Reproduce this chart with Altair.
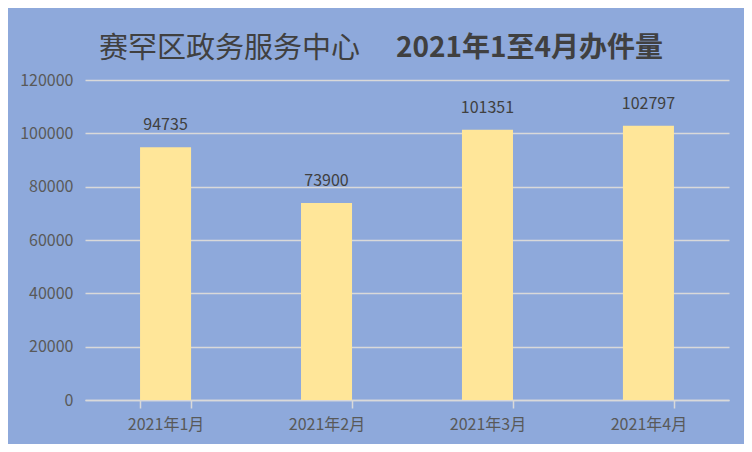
import altair as alt
import pandas as pd

months = ["2021年1月", "2021年2月", "2021年3月", "2021年4月"]
counts = [94735, 73900, 101351, 102797]
title_a = "赛罕区政务服务中心"
title_b = "2021年1至4月办件量"
y_ticks = [0, 20000, 40000, 60000, 80000, 100000, 120000]

df = pd.DataFrame({"month": months, "count": counts})
FONT = "Noto Sans CJK SC"

base = alt.Chart(df).encode(
    x=alt.X(
        "month:N",
        sort=months,
        title=None,
        scale=alt.Scale(paddingInner=0.683, paddingOuter=0.342),
        axis=alt.Axis(
            labelAngle=0,
            labelFont=FONT,
            labelFontSize=16,
            labelColor="#595959",
            labelPadding=8,
            tickBand="extent",
            tickColor="#D9D9D9",
            tickSize=8,
            tickWidth=1.5,
            domainColor="#D9D9D9",
            domainWidth=1.5,
            grid=False,
        ),
    ),
    y=alt.Y(
        "count:Q",
        title=None,
        scale=alt.Scale(domain=[0, 120000], nice=False),
        axis=alt.Axis(
            values=y_ticks,
            format="d",
            labelFont=FONT,
            labelFontSize=16,
            labelColor="#595959",
            labelPadding=12,
            domain=False,
            ticks=False,
            grid=True,
            gridColor="#D9D9D9",
            gridWidth=1.5,
        ),
    ),
)

bars = base.mark_bar(color="#FFE699")
labels = base.mark_text(
    font=FONT, fontSize=16, color="#404040", baseline="alphabetic", dy=-17
).encode(text=alt.Text("count:Q", format="d"))

t1 = alt.Chart(pd.DataFrame({"t": [title_a]})).mark_text(
    font=FONT, fontSize=29, color="#404040", align="right", baseline="middle"
).encode(text="t:N", x=alt.value(275), y=alt.value(-31))

t2 = alt.Chart(pd.DataFrame({"t": [title_b]})).mark_text(
    font=FONT, fontSize=28, fontWeight="bold", color="#404040", align="left", baseline="middle"
).encode(text="t:N", x=alt.value(311), y=alt.value(-31))

chart = (
    alt.layer(bars, labels, t1, t2)
    .properties(
        width=644,
        height=320,
        background="#8EA9DB",
        autosize=alt.AutoSizeParams(type="none"),
        padding={"left": 77, "top": 72, "right": 15, "bottom": 44},
    )
    .configure_view(stroke=None)
)

chart.save("out.html", embed_options={"renderer": "svg", "actions": False})
